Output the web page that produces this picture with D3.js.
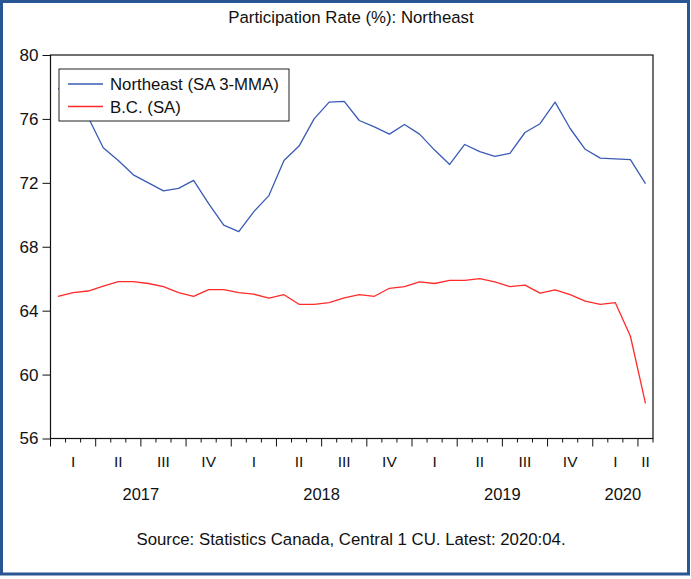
<!DOCTYPE html>
<html>
<head>
<meta charset="utf-8">
<script src="https://cdn.jsdelivr.net/npm/d3@7/dist/d3.min.js"></script>
<style>
  html, body { margin: 0; padding: 0; background: #ffffff; }
  svg { display: block; font-family: "Liberation Sans", Arial, sans-serif; }
</style>
</head>
<body>
<svg id="chart" width="691" height="579"></svg>
<script>
// Monthly observations, January 2017 through April 2020
const months = [
  "2017-01","2017-02","2017-03","2017-04","2017-05","2017-06","2017-07","2017-08","2017-09","2017-10","2017-11","2017-12",
  "2018-01","2018-02","2018-03","2018-04","2018-05","2018-06","2018-07","2018-08","2018-09","2018-10","2018-11","2018-12",
  "2019-01","2019-02","2019-03","2019-04","2019-05","2019-06","2019-07","2019-08","2019-09","2019-10","2019-11","2019-12",
  "2020-01","2020-02","2020-03","2020-04"
];

// Northeast participation rate, seasonally adjusted 3-month moving average
const northeast = [
  77.9, 77.7, 76.1, 74.2, 73.4, 72.5, 72.0, 71.5, 71.65, 72.15, 70.7, 69.35,
  68.95, 70.2, 71.2, 73.4, 74.3, 76.0, 77.05, 77.1, 75.9, 75.5, 75.05, 75.65,
  75.05, 74.05, 73.15, 74.4, 73.95, 73.65, 73.85, 75.15, 75.7, 77.05, 75.4, 74.1,
  73.55, 73.5, 73.45, 71.95
];

// British Columbia participation rate, seasonally adjusted
const bc = [
  64.9, 65.13, 65.23, 65.53, 65.82, 65.82, 65.7, 65.51, 65.13, 64.9, 65.32, 65.32,
  65.13, 65.03, 64.79, 65.0, 64.4, 64.4, 64.5, 64.8, 65.0, 64.9, 65.4, 65.5,
  65.8, 65.7, 65.9, 65.9, 66.0, 65.8, 65.5, 65.6, 65.1, 65.3, 65.0, 64.6,
  64.4, 64.5, 62.4, 58.2
];

const yTicks = [56, 60, 64, 68, 72, 76, 80];
const quarterNames = ["I", "II", "III", "IV"];
const years = ["2017", "2018", "2019", "2020"];

const seriesNames = ["Northeast (SA 3-MMA)", "B.C. (SA)"];
const seriesColors = ["#3a5bb4", "#ff2b2b"];

const titleText = "Participation Rate (%): Northeast";
const sourceText = "Source: Statistics Canada, Central 1 CU. Latest: 2020:04.";

const W = 691, H = 579;
const plot = { left: 50.5, right: 653, top: 55, bottom: 438.5 };

const svg = d3.select("#chart");

// outer frame
svg.append("rect")
  .attr("x", 1.5).attr("y", 1.5)
  .attr("width", 687).attr("height", 572.5)
  .attr("fill", "#ffffff")
  .attr("stroke", "#2b5694")
  .attr("stroke-width", 3);

// title
svg.append("text")
  .attr("x", 351).attr("y", 23)
  .attr("text-anchor", "middle")
  .attr("font-size", 16.8)
  .attr("fill", "#111")
  .text(titleText);

// scales
const x = d3.scaleBand()
  .domain(months)
  .range([plot.left, plot.right])
  .paddingInner(0).paddingOuter(0);
const xc = m => x(m) + x.bandwidth() / 2;

const y = d3.scaleLinear()
  .domain([56, 80])
  .range([plot.bottom, plot.top]);

// plot frame
svg.append("rect")
  .attr("x", plot.left).attr("y", plot.top)
  .attr("width", plot.right - plot.left)
  .attr("height", plot.bottom - plot.top)
  .attr("fill", "none")
  .attr("stroke", "#111")
  .attr("stroke-width", 1.2);

// y axis
const yAxis = d3.axisLeft(y)
  .tickValues(yTicks)
  .tickSize(8)
  .tickPadding(4)
  .tickFormat(d3.format("d"));
const gy = svg.append("g")
  .attr("transform", `translate(${plot.left},0)`)
  .call(yAxis);
gy.select(".domain").remove();
gy.selectAll(".tick line").attr("stroke", "#111");
gy.selectAll(".tick text")
  .attr("font-size", 17)
  .attr("font-family", "Liberation Sans, Arial, sans-serif")
  .attr("fill", "#111");

// x axis: month boundaries (minor) and quarter boundaries (major)
const gx = svg.append("g");
const boundaries = months.map((m, i) => ({ pos: x(m), major: i % 3 === 0 }));
boundaries.push({ pos: x(months[months.length - 1]) + x.bandwidth(), major: months.length % 3 === 0 });
gx.selectAll("line.tk")
  .data(boundaries)
  .join("line")
  .attr("class", "tk")
  .attr("x1", d => d.pos).attr("x2", d => d.pos)
  .attr("y1", plot.bottom)
  .attr("y2", d => plot.bottom + (d.major ? 8 : 4))
  .attr("stroke", "#111")
  .attr("stroke-width", 1);

// quarter labels centred on the months available in each quarter
const quarters = d3.groups(months, m => m.slice(0, 4) + "Q" + Math.floor((+m.slice(5) - 1) / 3));
gx.selectAll("text.q")
  .data(quarters)
  .join("text")
  .attr("class", "q")
  .attr("x", d => (x(d[1][0]) + x(d[1][d[1].length - 1]) + x.bandwidth()) / 2)
  .attr("y", 467)
  .attr("text-anchor", "middle")
  .attr("font-size", 15.5)
  .attr("fill", "#111")
  .text(d => quarterNames[+d[0].slice(-1)]);

// year labels
const yearGroups = years.map(yr => months.filter(m => m.startsWith(yr)));
gx.selectAll("text.yr")
  .data(years)
  .join("text")
  .attr("class", "yr")
  .attr("x", (d, i) => {
    const g = yearGroups[i];
    return (x(g[0]) + x(g[g.length - 1]) + x.bandwidth()) / 2;
  })
  .attr("y", 500)
  .attr("text-anchor", "middle")
  .attr("font-size", 16.5)
  .attr("fill", "#111")
  .text(d => d);

// series lines
const line = d3.line().x((d, i) => xc(months[i])).y(d => y(d));
[northeast, bc].forEach((vals, k) => {
  svg.append("path")
    .datum(vals)
    .attr("d", line)
    .attr("fill", "none")
    .attr("stroke", seriesColors[k])
    .attr("stroke-width", 1.3)
    .attr("stroke-linejoin", "round");
});

// legend
const lg = svg.append("g").attr("transform", "translate(59,69)");
lg.append("rect")
  .attr("x", 0).attr("y", 0)
  .attr("width", 230).attr("height", 52)
  .attr("fill", "#ffffff")
  .attr("stroke", "#222")
  .attr("stroke-width", 1);
seriesNames.forEach((name, k) => {
  const cy = 15 + k * 22.5;
  lg.append("line")
    .attr("x1", 9).attr("x2", 44)
    .attr("y1", cy).attr("y2", cy)
    .attr("stroke", seriesColors[k])
    .attr("stroke-width", 1.3);
  lg.append("text")
    .attr("x", 51).attr("y", cy + 6)
    .attr("font-size", 16.8)
    .attr("fill", "#111")
    .text(name);
});

// source note
svg.append("text")
  .attr("x", 351).attr("y", 545)
  .attr("text-anchor", "middle")
  .attr("font-size", 16.8)
  .attr("fill", "#111")
  .text(sourceText);
</script>
</body>
</html>
